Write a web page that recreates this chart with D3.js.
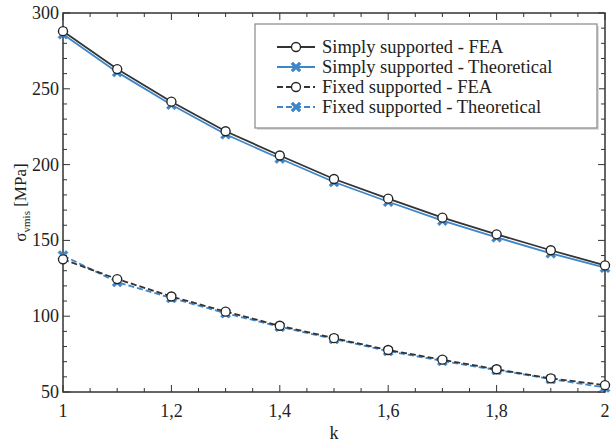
<!DOCTYPE html>
<html lang="en">
<head>
    <meta charset="utf-8">
    <title>stress_vs_k</title>
    <script type="text/javascript" src="https://d3js.org/d3.v7.min.js"></script>
    <style type="text/css">
        body { margin: 0; background: #fff; }
        text { font-family: "Liberation Serif", "Times New Roman", serif; fill: #222; }
    </style>
</head>
<body>

<script type="text/javascript">

    // values
    var k_values = [1, 1.1, 1.2, 1.3, 1.4, 1.5, 1.6, 1.7, 1.8, 1.9, 2];
    var simply_fea = [288, 263, 241.5, 222, 206, 190.5, 177.5, 165, 154, 143.5, 133.5];
    var simply_theo = [286, 261, 239.5, 220, 204, 188.5, 175.5, 163, 152, 141.5, 132];
    var fixed_fea = [137.5, 124.5, 113, 103, 93.7, 85.5, 77.7, 71.3, 65, 59, 54.5];
    var fixed_theo = [140, 122.5, 112, 102, 93, 85, 77, 70.5, 64.5, 58.5, 53];
    var series_names = ["Simply supported - FEA", "Simply supported - Theoretical",
                        "Fixed supported - FEA", "Fixed supported - Theoretical"];
    var x_ticks = [1, 1.2, 1.4, 1.6, 1.8, 2];
    var y_ticks = [50, 100, 150, 200, 250, 300];

    var width = 616, height = 443;
    // plot box (don't call these top/left at top level, window.top is read-only)
    var p_left = 63, p_right = 605, p_top = 13, p_bottom = 392;
    var dark = "#333333", blue = "#3f86c8";

    var svg = d3.select("body")
        .append("svg")
        .attr("width", width)
        .attr("height", height);

    var x = d3.scaleLinear().domain([1, 2]).range([p_left, p_right]);
    var y = d3.scaleLinear().domain([50, 300]).range([p_bottom, p_top]);

    var fmt = function(d) { return String(d).replace(".", ","); };

    // minor ticks every 0.05 / 10, inward on all four sides
    var x_minor = d3.range(0, 21).map(i => 1 + i * 0.05);
    var y_minor = d3.range(0, 26).map(i => 50 + i * 10);
    var isMajorX = d => x_ticks.some(t => Math.abs(t - d) < 1e-6);
    var isMajorY = d => d % 50 === 0;

    var ticks = svg.append("g").attr("stroke", dark).attr("stroke-width", 1);
    x_minor.forEach(function(d) {
        var len = isMajorX(d) ? 7 : 4;
        ticks.append("line").attr("x1", x(d)).attr("x2", x(d)).attr("y1", p_bottom).attr("y2", p_bottom - len);
        ticks.append("line").attr("x1", x(d)).attr("x2", x(d)).attr("y1", p_top).attr("y2", p_top + len);
    });
    y_minor.forEach(function(d) {
        var len = isMajorY(d) ? 7 : 4;
        ticks.append("line").attr("x1", p_left).attr("x2", p_left + len).attr("y1", y(d)).attr("y2", y(d));
        ticks.append("line").attr("x1", p_right).attr("x2", p_right - len).attr("y1", y(d)).attr("y2", y(d));
    });

    svg.append("rect")
        .attr("x", p_left).attr("y", p_top)
        .attr("width", p_right - p_left).attr("height", p_bottom - p_top)
        .attr("fill", "none").attr("stroke", dark).attr("stroke-width", 1.5);

    // tick labels
    svg.append("g").selectAll("text")
        .data(x_ticks)
        .enter()
        .append("text")
        .attr("x", d => x(d))
        .attr("y", p_bottom + 25)
        .attr("text-anchor", "middle")
        .attr("font-size", 18)
        .text(fmt);

    svg.append("g").selectAll("text")
        .data(y_ticks)
        .enter()
        .append("text")
        .attr("x", p_left - 4)
        .attr("y", d => y(d) + 6)
        .attr("text-anchor", "end")
        .attr("font-size", 18)
        .text(d => d);

    // axis titles
    svg.append("text")
        .attr("x", (p_left + p_right) / 2)
        .attr("y", 439)
        .attr("text-anchor", "middle")
        .attr("font-size", 18)
        .text("k");

    var ylab = svg.append("text")
        .attr("transform", "translate(26," + ((p_top + p_bottom) / 2) + ") rotate(-90)")
        .attr("text-anchor", "middle")
        .attr("font-size", 17);
    ylab.append("tspan").text("σ");
    ylab.append("tspan").attr("font-size", 11).attr("dy", 4).text("vmis");
    ylab.append("tspan").attr("dy", -4).text(" [MPa]");

    // series
    var series = [
        {name: series_names[0], values: simply_fea, color: dark, dash: null, marker: "circle"},
        {name: series_names[1], values: simply_theo, color: blue, dash: null, marker: "cross"},
        {name: series_names[2], values: fixed_fea, color: dark, dash: "6,3", marker: "circle"},
        {name: series_names[3], values: fixed_theo, color: blue, dash: "6,3", marker: "cross"}
    ];

    var line = d3.line().x(d => x(d[0])).y(d => y(d[1]));
    var crossPath = "M-5,-3 L-3,-5 L0,-2 L3,-5 L5,-3 L2,0 L5,3 L3,5 L0,2 L-3,5 L-5,3 L-2,0 Z";

    function drawMarker(g, m, color) {
        if (m === "circle") {
            g.append("circle").attr("r", 4.5).attr("fill", "#fff")
                .attr("stroke", "#222").attr("stroke-width", 1.3);
        } else {
            g.append("path").attr("d", crossPath).attr("fill", color)
                .attr("stroke", color).attr("stroke-width", 0.6);
        }
    }

    // draw theoretical first so FEA sits on top
    [1, 3, 0, 2].forEach(function(i) {
        var s = series[i];
        var pts = k_values.map((k, j) => [k, s.values[j]]);
        svg.append("path")
            .datum(pts)
            .attr("d", line)
            .attr("fill", "none")
            .attr("stroke", s.color)
            .attr("stroke-width", 1.8)
            .attr("stroke-dasharray", s.dash);
        pts.forEach(function(p) {
            var g = svg.append("g").attr("transform", "translate(" + x(p[0]) + "," + y(p[1]) + ")");
            drawMarker(g, s.marker, s.color);
        });
    });

    // legend
    var lg = svg.append("g").attr("transform", "translate(255,24)");
    lg.append("rect").attr("x", 2).attr("y", 2).attr("width", 342).attr("height", 104)
        .attr("fill", "#ddd");
    lg.append("rect").attr("width", 342).attr("height", 104)
        .attr("fill", "#fff").attr("stroke", "#888").attr("stroke-width", 1.2);

    series.forEach(function(s, i) {
        var yy = 23 + i * 20;
        lg.append("line").attr("x1", 22).attr("x2", 60).attr("y1", yy).attr("y2", yy)
            .attr("stroke", s.color).attr("stroke-width", 1.8)
            .attr("stroke-dasharray", s.dash);
        var g = lg.append("g").attr("transform", "translate(41," + yy + ")");
        drawMarker(g, s.marker, s.color);
        lg.append("text").attr("x", 67).attr("y", yy + 6)
            .attr("font-size", 18.5)
            .text(s.name);
    });

</script>
</body>
</html>
